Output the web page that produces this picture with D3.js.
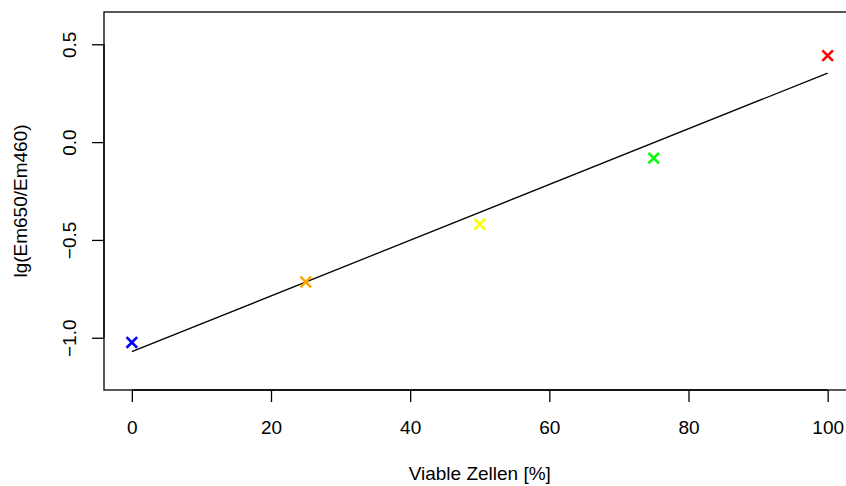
<!DOCTYPE html>
<html><head><meta charset="utf-8">
<script src="https://cdn.jsdelivr.net/npm/d3@7"></script>
<style>html,body{margin:0;padding:0;background:#fff;overflow:hidden}svg{display:block}text{font-family:"Liberation Sans",Arial,Helvetica,sans-serif;fill:#000}</style>
</head><body>
<svg id="c" width="846" height="486"></svg>
<script>
const viable = [0, 25, 50, 75, 100];
const ratioLog = [-1.024, -0.715, -0.42, -0.082, 0.442];
const pointColors = ["#0000FF", "#FFA500", "#FFFF00", "#00FF00", "#FF0000"];
const fitX = [0, 100];
const fitY = [-1.071, 0.353];
const xTicks = [0, 20, 40, 60, 80, 100];
const yTicks = [-1.0, -0.5, 0.0, 0.5];
const xTitle = "Viable Zellen [%]";
const yTitle = "lg(Em650/Em460)";

const svg = d3.select("#c");
const L = 104, R = 855.5, T = 12, B = 390;
const x = d3.scaleLinear().domain([-4, 104]).range([L, R]);
const y = d3.scaleLinear().domain([-1.267, 0.665]).range([B, T]);
const fs = 19;

// box
svg.append("rect").attr("x", L).attr("y", T).attr("width", R - L).attr("height", B - T)
  .attr("fill", "none").attr("stroke", "#000").attr("stroke-width", 1.3);

// x axis
const xa = svg.append("g").attr("transform", `translate(0,${B})`)
  .call(d3.axisBottom(x).tickValues(xTicks).tickSize(12).tickPadding(0).tickFormat(d3.format("d")));
xa.select(".domain").attr("d", `M${x(xTicks[0])},0H${x(xTicks[xTicks.length-1])}`).attr("stroke-width", 1.3);
xa.selectAll(".tick line").attr("stroke-width", 1.3);
xa.selectAll(".tick text").attr("font-size", fs).attr("font-family", null).attr("dy", null).attr("y", 44);

// y axis
const ya = svg.append("g").attr("transform", `translate(${L},0)`)
  .call(d3.axisLeft(y).tickValues(yTicks).tickSize(12).tickFormat(d3.format(".1f")));
ya.select(".domain").attr("d", `M0,${y(yTicks[0])}V${y(yTicks[yTicks.length-1])}`).attr("stroke-width", 1.3);
ya.selectAll(".tick line").attr("stroke-width", 1.3);
ya.selectAll(".tick text").attr("font-size", fs).attr("font-family", null)
  .attr("x", null).attr("dy", null).attr("text-anchor", "middle")
  .attr("transform", "translate(-28,0) rotate(-90)");

// fit line
svg.append("path").datum(fitX.map((d, i) => [d, fitY[i]]))
  .attr("d", d3.line().x(d => x(d[0])).y(d => y(d[1])))
  .attr("fill", "none").attr("stroke", "#000").attr("stroke-width", 1.3);

// points (crosses)
const s = 5.3;
svg.append("g").selectAll("path").data(viable).join("path")
  .attr("d", (d, i) => {
    const cx = x(d), cy = y(ratioLog[i]);
    return `M${cx-s},${cy-s}L${cx+s},${cy+s}M${cx-s},${cy+s}L${cx+s},${cy-s}`;
  })
  .attr("stroke", (d, i) => pointColors[i]).attr("stroke-width", 2.6).attr("fill", "none");

// titles
svg.append("text").attr("x", (L + R) / 2).attr("y", 480).attr("text-anchor", "middle")
  .attr("font-size", fs).text(xTitle);
svg.append("text").attr("transform", `translate(27,${(T + B) / 2}) rotate(-90)`)
  .attr("text-anchor", "middle").attr("font-size", fs).text(yTitle);
</script>
</body></html>
